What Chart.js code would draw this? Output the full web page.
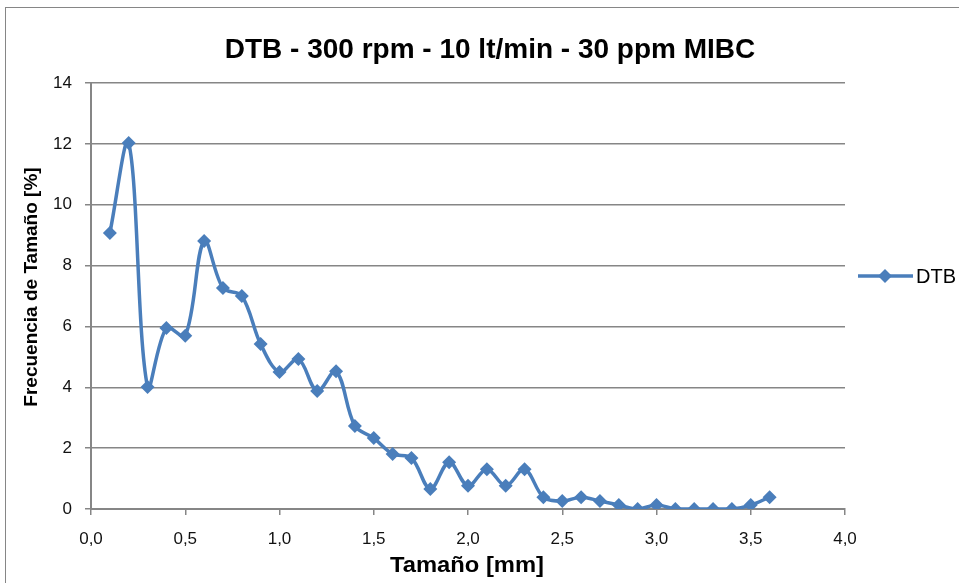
<!DOCTYPE html>
<html>
<head>
<meta charset="utf-8">
<script src="https://cdn.jsdelivr.net/npm/chart.js"></script>
<style>
  html, body { margin: 0; padding: 0; background: #fff; }
  #wrap { width: 959px; height: 583px; position: relative; }
</style>
</head>
<body>
<div id="wrap"><canvas id="chart" width="959" height="583"></canvas></div>
<script>
// Tamaño [mm] vs frecuencia [%]
const tamanos = [0.1, 0.2, 0.3, 0.4, 0.5, 0.6, 0.7, 0.8, 0.9, 1.0,
                 1.1, 1.2, 1.3, 1.4, 1.5, 1.6, 1.7, 1.8, 1.9, 2.0,
                 2.1, 2.2, 2.3, 2.4, 2.5, 2.6, 2.7, 2.8, 2.9, 3.0,
                 3.1, 3.2, 3.3, 3.4, 3.5, 3.6];
const frecuencia = [9.07, 12.03, 4.01, 5.95, 5.69, 8.81, 7.26, 7.0, 5.42, 4.5,
                    4.93, 3.88, 4.53, 2.73, 2.33, 1.81, 1.68, 0.66, 1.54, 0.76,
                    1.31, 0.76, 1.31, 0.39, 0.26, 0.39, 0.26, 0.13, 0.0, 0.13,
                    0.0, 0.0, 0.0, 0.0, 0.13, 0.39];
const ticksX = [0, 0.5, 1, 1.5, 2, 2.5, 3, 3.5, 4];
const titulo = 'DTB - 300 rpm - 10 lt/min - 30 ppm MIBC';
const serie = 'DTB';
const ejeX = 'Tamaño [mm]';
const ejeY = 'Frecuencia de Tamaño [%]';

const AZUL = '#4A7EBB';
const GRIS = '#868686';
const FUENTE = '"Liberation Sans", Arial, sans-serif';

const puntos = tamanos.map((x, i) => ({ x: x, y: frecuencia[i] }));

// marco, títulos y leyenda
const adornos = {
  id: 'adornos',
  beforeDraw(chart) {
    const c = chart.ctx;
    c.save();
    c.fillStyle = '#fff';
    c.fillRect(0, 0, chart.width, chart.height);
    c.strokeStyle = GRIS;
    c.lineWidth = 1;
    c.strokeRect(5.5, 7.5, chart.width + 10, chart.height + 10);
    c.restore();
  },
  afterDraw(chart) {
    const c = chart.ctx;
    c.save();
    c.fillStyle = '#000';
    c.textAlign = 'center';
    c.textBaseline = 'middle';
    c.font = 'bold 28px ' + FUENTE;
    c.fillText(titulo, 490, 50);
    c.save();
    c.translate(467, 566);
    c.scale(1.08, 1);
    c.font = 'bold 22px ' + FUENTE;
    c.fillText(ejeX, 0, 0);
    c.restore();
    c.translate(32, 287);
    c.rotate(-Math.PI / 2);
    c.font = 'bold 19px ' + FUENTE;
    c.fillText(ejeY, 0, 0);
    c.restore();

    // leyenda
    c.save();
    const ly = 276;
    c.strokeStyle = AZUL;
    c.lineWidth = 3.5;
    c.beginPath();
    c.moveTo(858, ly);
    c.lineTo(913, ly);
    c.stroke();
    c.fillStyle = AZUL;
    c.beginPath();
    c.moveTo(885, ly - 7);
    c.lineTo(892, ly);
    c.lineTo(885, ly + 7);
    c.lineTo(878, ly);
    c.closePath();
    c.fill();
    c.fillStyle = '#000';
    c.font = '20px ' + FUENTE;
    c.textAlign = 'left';
    c.textBaseline = 'middle';
    c.fillText(serie, 916, ly + 1);
    c.restore();
  }
};

new Chart(document.getElementById('chart'), {
  type: 'line',
  data: {
    datasets: [{
      label: serie,
      data: puntos,
      borderColor: AZUL,
      backgroundColor: AZUL,
      borderWidth: 3.5,
      tension: 0.35,
      pointStyle: 'rectRot',
      pointRadius: 7,
      pointBorderWidth: 0,
      pointHoverRadius: 7
    }]
  },
  options: {
    responsive: false,
    animation: false,
    events: [],
    layout: { padding: { left: 0, top: 83, right: 114, bottom: 0 } },
    plugins: {
      legend: { display: false },
      title: { display: false },
      tooltip: { enabled: false }
    },
    scales: {
      x: {
        type: 'linear',
        min: 0,
        max: 4,
        afterFit(s) { s.height = 74; },
        afterBuildTicks(s) {
          s.ticks = ticksX.map(v => ({ value: v }));
        },
        border: { color: GRIS, width: 2 },
        grid: { drawOnChartArea: false, drawTicks: true, tickLength: 6, color: GRIS, lineWidth: 1.5 },
        ticks: {
          color: '#111',
          font: { family: FUENTE, size: 17 },
          padding: 14,
          maxRotation: 0,
          callback: v => v.toFixed(1).replace('.', ',')
        }
      },
      y: {
        min: 0,
        max: 14,
        afterFit(s) { s.width = 91; },
        border: { color: GRIS, width: 2 },
        grid: { color: GRIS, lineWidth: 1.5, drawTicks: true, tickLength: 6 },
        ticks: {
          stepSize: 2,
          color: '#111',
          font: { family: FUENTE, size: 17 },
          padding: 13
        }
      }
    }
  },
  plugins: [adornos]
});
</script>
</body>
</html>
